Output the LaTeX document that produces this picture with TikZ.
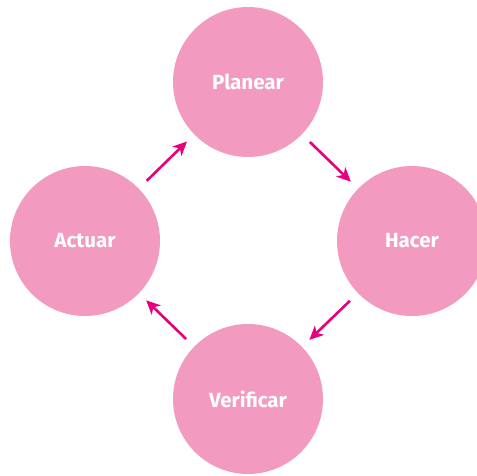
\documentclass[tikz,border=0pt]{standalone}
\usepackage{fontspec}
\setmainfont{Fira Sans}
\usetikzlibrary{arrows.meta}
\definecolor{circ}{HTML}{F39AC1}
\definecolor{arrc}{HTML}{E6007E}
\tikzset{
  stage/.style={circle, fill=circ, minimum size=150pt, inner sep=0pt, text=white, font=\fontsize{20.5}{24}\selectfont\bfseries},
  arr/.style={draw=arrc, line width=2.6pt, shorten <=11pt, shorten >=10pt, -{Stealth[length=14pt,width=13pt,inset=4pt]}}
}
\begin{document}
\begin{tikzpicture}[x=1pt,y=-1pt]
\useasboundingbox (0,0) rectangle (477,475);
\begin{scope}
\clip (0,0) rectangle (477,475);
\node[stage] (P) at (248,82) {Planear};
\node[stage] (H) at (412,241) {Hacer};
\node[stage] (V) at (248,399) {Verificar};
\node[stage] (A) at (85,241) {Actuar};
\end{scope}
\draw[arr] (P) -- (H);
\draw[arr] (H) -- (V);
\draw[arr] (V) -- (A);
\draw[arr] (A) -- (P);
\end{tikzpicture}
\end{document}
